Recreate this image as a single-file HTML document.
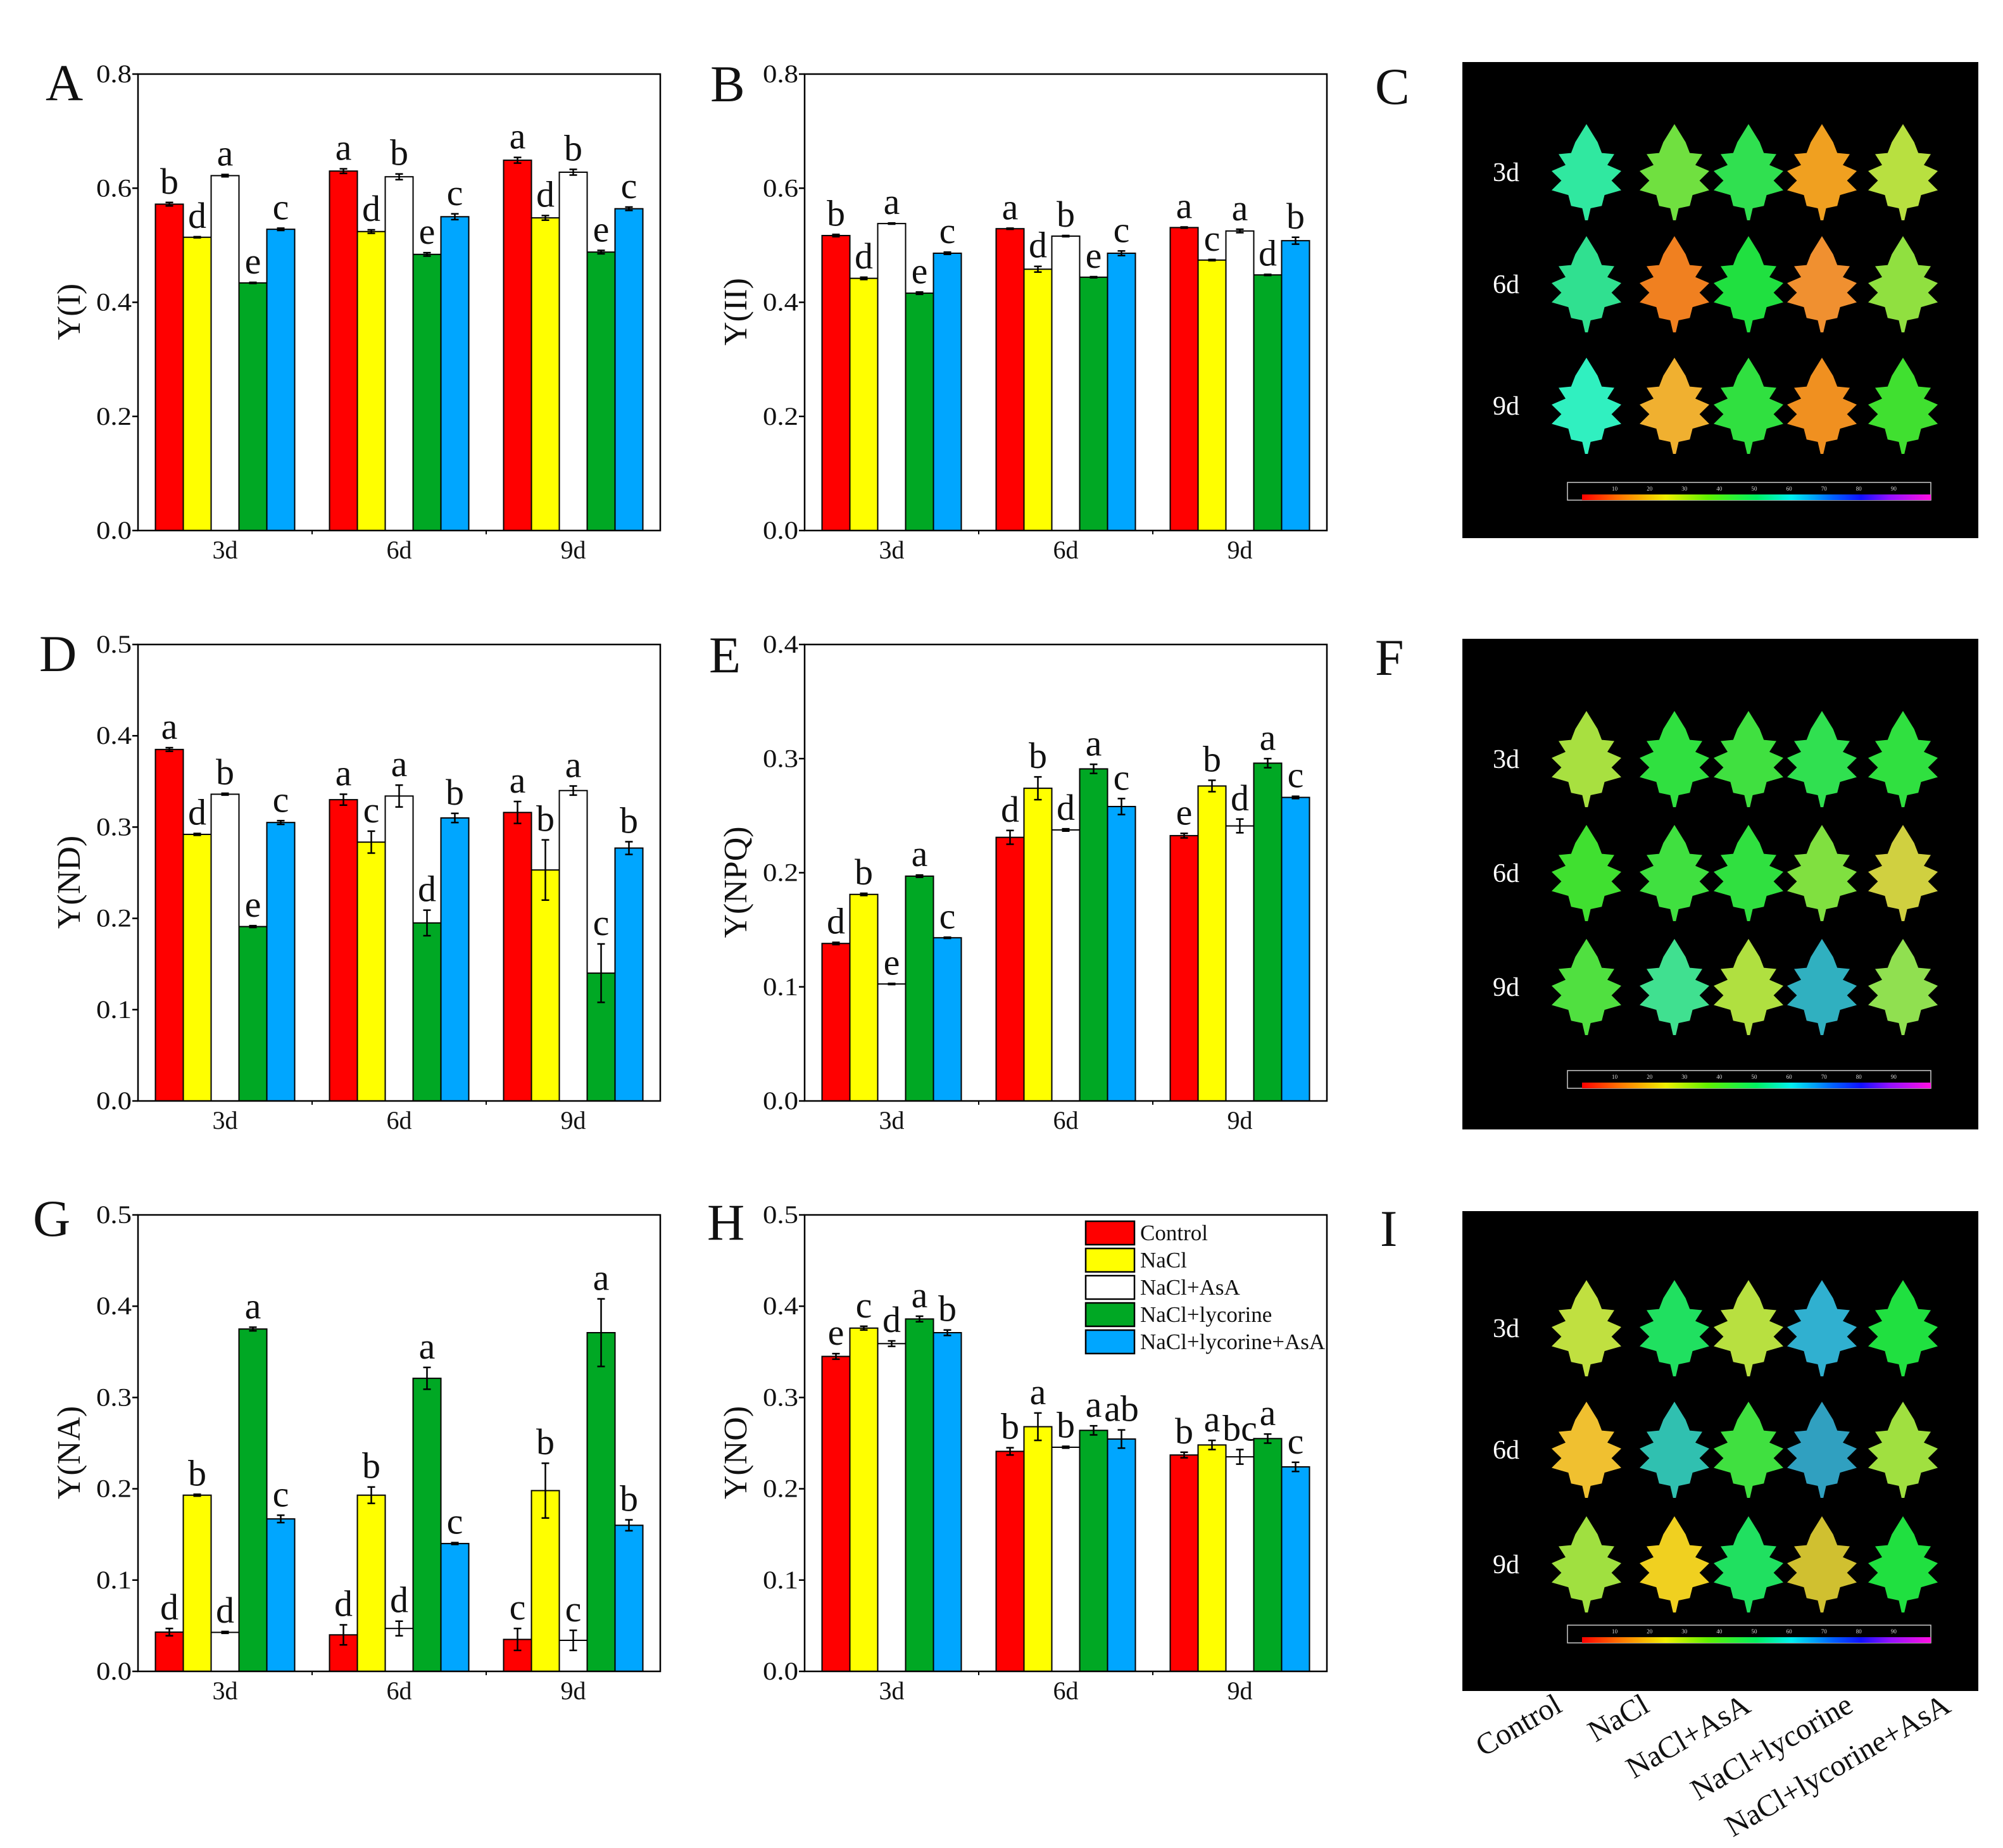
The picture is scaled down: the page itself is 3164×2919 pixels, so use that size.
<!DOCTYPE html>
<html><head><meta charset="utf-8">
<style>
html,body{margin:0;padding:0;background:#fff;}
svg{display:block;}
text{font-family:"Liberation Serif",serif;fill:#111;}
</style></head>
<body>
<svg id="fig" width="3164" height="2919" viewBox="0 0 3164 2919" xmlns="http://www.w3.org/2000/svg">
<defs>
<linearGradient id="cbar" x1="0" x2="1" y1="0" y2="0">
<stop offset="0" stop-color="#ff0000"/><stop offset="0.12" stop-color="#ff8000"/><stop offset="0.24" stop-color="#f0f000"/>
<stop offset="0.36" stop-color="#60f000"/><stop offset="0.5" stop-color="#00f060"/><stop offset="0.6" stop-color="#00f0f0"/>
<stop offset="0.72" stop-color="#0060ff"/><stop offset="0.8" stop-color="#1010ff"/><stop offset="0.88" stop-color="#9010ff"/>
<stop offset="1" stop-color="#ff10e0"/></linearGradient>
</defs>
</svg>
<script>
const NS='http://www.w3.org/2000/svg';
const svg=document.getElementById('fig');
function mk(tag,attrs,parent){const e=document.createElementNS(NS,tag);for(const k in attrs)e.setAttribute(k,attrs[k]);(parent||svg).appendChild(e);return e;}

const categories=['3d','6d','9d'];
const seriesNames=['Control','NaCl','NaCl+AsA','NaCl+lycorine','NaCl+lycorine+AsA'];
const seriesColors=['#ff0000','#ffff00','#ffffff','#00a824','#00a6ff'];

// Panel A: Y(I)
const yI_means=[[0.572,0.514,0.622,0.434,0.528],[0.630,0.524,0.620,0.484,0.550],[0.649,0.548,0.628,0.488,0.564]];
const yI_errs=[[0.003,0.001,0.002,0.001,0.002],[0.004,0.003,0.005,0.003,0.005],[0.005,0.004,0.005,0.003,0.003]];
const yI_letters=[['b','d','a','e','c'],['a','d','b','e','c'],['a','d','b','e','c']];
const yI_ticks=['0.0','0.2','0.4','0.6','0.8'];
// Panel B: Y(II)
const yII_means=[[0.517,0.442,0.538,0.416,0.486],[0.529,0.458,0.516,0.444,0.486],[0.531,0.474,0.525,0.448,0.508]];
const yII_errs=[[0.002,0.002,0.001,0.002,0.002],[0.001,0.005,0.001,0.001,0.004],[0.001,0.001,0.003,0.001,0.006]];
const yII_letters=[['b','d','a','e','c'],['a','d','b','e','c'],['a','c','a','d','b']];
const yII_ticks=['0.0','0.2','0.4','0.6','0.8'];
// Panel D: Y(ND)
const yND_means=[[0.385,0.292,0.336,0.191,0.305],[0.330,0.2835,0.334,0.195,0.310],[0.316,0.253,0.340,0.140,0.277]];
const yND_errs=[[0.002,0.001,0.001,0.001,0.002],[0.006,0.012,0.012,0.014,0.005],[0.012,0.033,0.005,0.032,0.007]];
const yND_letters=[['a','d','b','e','c'],['a','c','a','d','b'],['a','b','a','c','b']];
const yND_ticks=['0.0','0.1','0.2','0.3','0.4','0.5'];
// Panel E: Y(NPQ)
const yNPQ_means=[[0.138,0.181,0.1025,0.197,0.143],[0.231,0.274,0.2375,0.291,0.258],[0.2325,0.276,0.241,0.296,0.266]];
const yNPQ_errs=[[0.001,0.001,0.0005,0.001,0.0005],[0.006,0.010,0.001,0.004,0.007],[0.002,0.005,0.006,0.004,0.001]];
const yNPQ_letters=[['d','b','e','a','c'],['d','b','d','a','c'],['e','b','d','a','c']];
const yNPQ_ticks=['0.0','0.1','0.2','0.3','0.4'];
// Panel G: Y(NA)
const yNA_means=[[0.043,0.193,0.0427,0.375,0.167],[0.040,0.193,0.047,0.321,0.140],[0.035,0.198,0.034,0.371,0.160]];
const yNA_errs=[[0.004,0.001,0.001,0.002,0.004],[0.011,0.009,0.008,0.012,0.001],[0.012,0.030,0.011,0.037,0.006]];
const yNA_letters=[['d','b','d','a','c'],['d','b','d','a','c'],['c','b','c','a','b']];
const yNA_ticks=['0.0','0.1','0.2','0.3','0.4','0.5'];
// Panel H: Y(NO)
const yNO_means=[[0.345,0.376,0.359,0.386,0.371],[0.241,0.268,0.2455,0.264,0.2545],[0.237,0.248,0.235,0.255,0.224]];
const yNO_errs=[[0.003,0.002,0.003,0.003,0.003],[0.004,0.015,0.001,0.005,0.010],[0.003,0.005,0.008,0.005,0.005]];
const yNO_letters=[['e','c','d','a','b'],['b','a','b','a','ab'],['b','a','bc','a','c']];
const yNO_ticks=['0.0','0.1','0.2','0.3','0.4','0.5'];

function panelLetter(ch,x,y){
  const t=mk('text',{x:x,y:y,'font-size':82});
  t.textContent=ch;
  
  
}

function barChart(id,L,T,title,ticks,means,errs,letters){
  const W=825,H=721;
  const g=mk('g',{});
  
  
  const yMax=parseFloat(ticks[ticks.length-1]);
  const yS=v=>T+H-(v/yMax)*H;
  const slot=W/3, bw=slot*0.8/5;
  const xB=(ci,si)=>L+ci*slot+slot*0.1+si*bw;
  means.forEach((grp,ci)=>{
    grp.forEach((v,si)=>{
      const r=mk('rect',{x:xB(ci,si),y:yS(v),width:bw,height:yS(0)-yS(v),fill:seriesColors[si],stroke:'#000','stroke-width':2},g);
      
      
      const cx=xB(ci,si)+bw/2, e=errs[ci][si];
      const eb=mk('path',{d:`M${cx},${yS(v-e)}V${yS(v+e)}M${cx-6},${yS(v-e)}h12M${cx-6},${yS(v+e)}h12`,stroke:'#000','stroke-width':2.5,fill:'none'},g);
      
      
      const t=mk('text',{x:cx,y:yS(v+e)-14,'text-anchor':'middle','font-size':58},g);
      t.textContent=letters[ci][si];
      
      
    });
  });
  const fr=mk('rect',{x:L,y:T,width:W,height:H,fill:'none',stroke:'#000','stroke-width':2.5},g);
  
  
  ticks.forEach(tl=>{
    const v=parseFloat(tl),y=yS(v);
    mk('line',{x1:L-9,x2:L,y1:y,y2:y,stroke:'#000','stroke-width':2.5},g);
    const t=mk('text',{x:L-10,y:y+13,'text-anchor':'end','font-size':40,textLength:56,lengthAdjust:'spacingAndGlyphs'},g);
    t.textContent=tl;
    
    
  });
  categories.forEach((c,ci)=>{
    if(ci>0) mk('line',{x1:L+ci*slot,x2:L+ci*slot,y1:T+H,y2:T+H+6,stroke:'#000','stroke-width':2},g);
    const t=mk('text',{x:L+ci*slot+slot/2,y:T+H+44,'text-anchor':'middle','font-size':40},g);
    t.textContent=c;
    
    
  });
  const yt=mk('text',{x:0,y:0,'text-anchor':'middle','font-size':52,transform:`translate(${L-92},${T+H/2+15}) rotate(-90)`},g);
  yt.textContent=title;
  
  
}

barChart('a',218,117,'Y(I)',yI_ticks,yI_means,yI_errs,yI_letters);
barChart('b',1271,117,'Y(II)',yII_ticks,yII_means,yII_errs,yII_letters);
barChart('d',218,1018,'Y(ND)',yND_ticks,yND_means,yND_errs,yND_letters);
barChart('e',1271,1018,'Y(NPQ)',yNPQ_ticks,yNPQ_means,yNPQ_errs,yNPQ_letters);
barChart('g',218,1919,'Y(NA)',yNA_ticks,yNA_means,yNA_errs,yNA_letters);
barChart('h',1271,1919,'Y(NO)',yNO_ticks,yNO_means,yNO_errs,yNO_letters);

panelLetter('A',72,158);panelLetter('B',1122,160);panelLetter('C',2172,164);
panelLetter('D',62,1060);panelLetter('E',1120,1062);panelLetter('F',2172,1066);
panelLetter('G',52,1952);panelLetter('H',1117,1958);panelLetter('I',2180,1968);

const lg=mk('g',{});


seriesNames.forEach((n,i)=>{
  const y=1929+i*43;
  const r=mk('rect',{x:1715,y:y,width:77,height:37,fill:seriesColors[i],stroke:'#000','stroke-width':2.5},lg);
  
  
  const t=mk('text',{x:1801,y:y+30,'font-size':35},lg);
  t.textContent=n;
  
  
});

const leafPath='M0,-80 L16,-50 L22,-32 L40,-30 L30,-12 L50,-2 L36,14 L50,30 L26,38 L22,56 L6,60 L2,80 L-2,80 L-6,60 L-22,56 L-26,38 L-50,30 L-36,14 L-50,-2 L-30,-12 L-40,-30 L-22,-32 L-16,-50 Z';
const leafColsC=[['#30e8a0','#70e040','#30e050','#f0a020','#b8e040'],['#30e090','#f08020','#20e040','#f09030','#90e040'],['#30f0c0','#f0b030','#30e040','#f09020','#40e030']];
const leafColsF=[['#a8e040','#30e040','#40e040','#30e050','#30e040'],['#40e030','#40e040','#30e040','#80e040','#d0d040'],['#50e040','#40e090','#b0e040','#30b0c0','#90e050']];
const leafColsI=[['#c0e040','#20e060','#b8e040','#30b0d0','#20e040'],['#f0c030','#30c0b0','#40e040','#30a0c0','#a0e040'],['#a0e040','#f0d020','#20e060','#d0c030','#20e040']];
const rowLabels=['3d','6d','9d'];
function leafPanel(id,T,H,cols,rowsRel,barRel){
  const L=2310,W=815;
  const g=mk('g',{});
  
  
  mk('rect',{x:L,y:T,width:W,height:H,fill:'#000'},g);
  const xs=[196,335,452,568,696];
  rowsRel.forEach((ry,ri)=>{
    const t=mk('text',{x:L+48,y:T+ry+14,'font-size':42,style:'fill:#fff'},g);
    t.textContent=rowLabels[ri];
    
    
    xs.forEach((x,ci)=>{
      const p=mk('path',{d:leafPath,fill:cols[ri][ci],transform:`translate(${L+x},${T+ry}) scale(1.1,0.95)`},g);
      
      
    });
  });
  const bx=L+166,bwid=574,by=T+barRel;
  mk('rect',{x:bx,y:by,width:bwid,height:28,fill:'#000',stroke:'#ccc','stroke-width':1.5},g);
  const gb=mk('rect',{x:bx+23,y:by+19,width:bwid-23,height:9,fill:'url(#cbar)'},g);
  
  
  for(let i=1;i<=9;i++){
    const t=mk('text',{x:bx+23+i*(bwid-23)/10-8,y:by+13,'font-size':9,style:'fill:#ddd'},g);
    t.textContent=String(i*10);
  }
}
leafPanel('c',98,752,leafColsC,[174,351,543],664);
leafPanel('f',1009,775,leafColsF,[190,370,550],682);
leafPanel('i',1913,758,leafColsI,[185,377,558],654);

const endX=[2470,2608,2768,2930,3084];
seriesNames.forEach((n,i)=>{
  const t=mk('text',{x:0,y:0,'text-anchor':'end','font-size':48,transform:`translate(${endX[i]},${2702}) rotate(-30)`});
  t.textContent=n;
  
  
});
</script>
</body></html>
